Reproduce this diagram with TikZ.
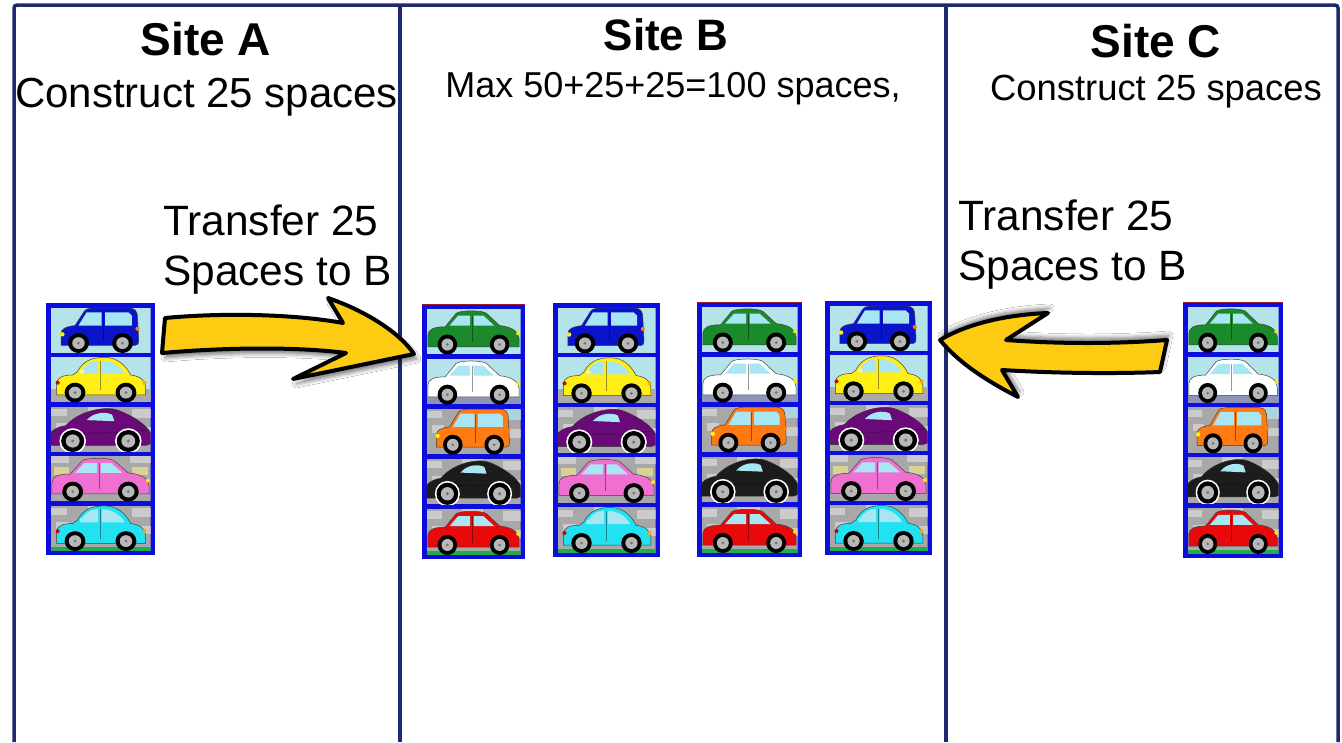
\documentclass[tikz,border=0pt]{standalone}
\usepackage{fontspec}
\setmainfont{Liberation Sans}
\usetikzlibrary{shadows.blur}

\definecolor{framenavy}{HTML}{1F2A6E}
\definecolor{stackblue}{HTML}{0D0DDC}
\definecolor{topred}{HTML}{9A1A2A}
\definecolor{arrowyellow}{HTML}{FCCB12}
\definecolor{sky}{HTML}{B4E3EA}
\definecolor{winblue}{HTML}{A8E6F4}
\definecolor{bldgray}{HTML}{A8A8A8}
\definecolor{bldlight}{HTML}{CBCBCB}
\definecolor{bldyellow}{HTML}{D9D294}
\definecolor{roadgray}{HTML}{ABABAB}
\definecolor{stripblue}{HTML}{8C94BA}
\definecolor{grass}{HTML}{1FAF4A}
\definecolor{hubgray}{HTML}{B8B8B8}
\definecolor{carblue}{HTML}{0A14C8}
\definecolor{caryellow}{HTML}{FFEF14}
\definecolor{carpurple}{HTML}{6A0A78}
\definecolor{carpink}{HTML}{F070D2}
\definecolor{carcyan}{HTML}{22E2F2}
\definecolor{cargreen}{HTML}{1A8A2A}
\definecolor{carwhite}{HTML}{FFFFFF}
\definecolor{carorange}{HTML}{FF7A12}
\definecolor{carblack}{HTML}{1C1C1C}
\definecolor{carred}{HTML}{E80A0A}

% ---------- wheels ----------
\newcommand\carwheel[3]{%
  \fill[black] (#1,#2) circle[radius=#3];
  \fill[hubgray] (#1,#2) circle[radius=#3*0.6];
  \fill[black!55] (#1,#2) circle[radius=#3*0.15];}

% ---------- car bodies (cell box: 95 x 45, origin at centre, y downwards) ----------
\newcommand\boxcar[1]{%
  \filldraw[fill=#1, draw=black!75, line width=0.5]
    (-34,13) -- (-34,2) .. controls (-34,-2) and (-30,-4) .. (-22,-5)
    -- (-14,-18) .. controls (-12,-21) and (-8,-21) .. (0,-21) -- (24,-21)
    .. controls (30,-21) and (32,-18) .. (32,-12) -- (33,8)
    .. controls (33,12) and (32,13) .. (30,13) -- cycle;
  \fill[winblue] (-19,-5) -- (-12,-17) -- (1,-17) -- (1,-5) -- cycle;
  \fill[winblue] (4,-17) -- (24,-17) -- (27,-14) -- (27,-5) -- (4,-5) -- cycle;
  \draw[#1!60!black, line width=0.5] (2,-17) -- (2,9);
  \fill[yellow] (-33,3) circle[radius=2];
  \fill[orange] (32,-2) circle[radius=1.8];
  \carwheel{-19}{11}{9}
  \carwheel{19}{11}{9}}

\newcommand\roundcar[1]{%
  \filldraw[fill=#1, draw=black!75, line width=0.5]
    (-38,13) -- (-38,3) .. controls (-38,-3) and (-32,-5) .. (-24,-5)
    -- (-20,-8) .. controls (-14,-20) and (-4,-21) .. (4,-21)
    .. controls (14,-21) and (22,-14) .. (26,-5)
    .. controls (34,-4) and (39,0) .. (39,6) -- (39,13) -- cycle;
  \fill[winblue] (-18,-6) .. controls (-14,-15) and (-8,-18) .. (-2,-18) -- (-2,-6) -- cycle;
  \fill[winblue] (1,-18) .. controls (10,-18) and (17,-13) .. (21,-6) -- (1,-6) -- cycle;
  \draw[#1!60!black, line width=0.5] (0,-18) -- (0,9);
  \fill[#1!50!white] (-16,-8) circle[radius=2];
  \fill[red!80!black] (-37,2) circle[radius=1.8];
  \fill[orange!70!yellow] (38,2) circle[radius=1.8];
  \carwheel{-22}{11}{9}
  \carwheel{22}{11}{9}}

\newcommand\domecar[1]{%
  \filldraw[fill=#1, draw=black!80, line width=0.5]
    (-45,11) .. controls (-46,4) and (-42,-2) .. (-30,-4)
    .. controls (-18,-18) and (5,-22) .. (15,-18)
    .. controls (30,-12) and (44,-2) .. (45,8)
    .. controls (45,12) and (42,14) .. (38,14) -- (-40,14)
    .. controls (-44,14) and (-45,13) .. (-45,11) -- cycle;
  \fill[winblue] (-12,-9) .. controls (-6,-16) and (4,-17) .. (10,-14) -- (12,-8) -- cycle;
  \draw[#1!55!black, line width=0.5] (-30,2) .. controls (0,4) and (20,2) .. (40,0);
  \fill[white] (-24,10) circle[radius=11.5];
  \fill[white] (24,10) circle[radius=11.5];
  \carwheel{-24}{10}{10}
  \carwheel{24}{10}{10}}

\newcommand\sedancar[1]{%
  \filldraw[fill=#1, draw=black!75, line width=0.5]
    (-42,13) -- (-42,3) .. controls (-42,-3) and (-36,-5) .. (-26,-5)
    -- (-16,-17) .. controls (-12,-20) and (8,-20) .. (12,-17)
    -- (24,-6) .. controls (36,-5) and (42,0) .. (42,6) -- (42,13) -- cycle;
  \fill[winblue] (-22,-6) -- (-14,-15) -- (-3,-15) -- (-3,-6) -- cycle;
  \fill[winblue] (0,-15) -- (9,-15) -- (19,-6) -- (0,-6) -- cycle;
  \draw[#1!60!black, line width=0.5] (-1.5,-15) -- (-1.5,9);
  \fill[yellow!90!orange] (41,1) circle[radius=1.8];
  \carwheel{-24}{11}{9}
  \carwheel{24}{11}{9}}

% ---------- cell backgrounds ----------
\newcommand\bgsky{\fill[sky] (-47.5,-22.5) rectangle (47.5,22.5);}
\newcommand\bgroad{\fill[sky] (-47.5,-22.5) rectangle (47.5,22.5);
  \fill[roadgray] (-47.5,9) rectangle (47.5,22.5);}
\newcommand\bgbluestrip{\fill[sky] (-47.5,-22.5) rectangle (47.5,22.5);
  \fill[stripblue] (-47.5,15) rectangle (47.5,22.5);}
\newcommand\bgcity{\fill[bldgray] (-47.5,-22.5) rectangle (47.5,22.5);
  \fill[bldlight] (-47.5,-20) rectangle (-32,-13);
  \fill[bldlight] (-42,-6) rectangle (-30,1);
  \fill[bldlight] (-12,-22.5) rectangle (10,-17);
  \fill[bldlight] (30,-20) rectangle (47.5,-11);
  \fill[bldlight] (32,-2) rectangle (47.5,6);}
\newcommand\bgcitypatch{\bgcity
  \fill[sky!80!stripblue] (12,-22.5) rectangle (47.5,-12);}
\newcommand\bgcityyellow{\fill[bldgray] (-47.5,-22.5) rectangle (47.5,22.5);
  \fill[bldlight] (-47.5,-22.5) rectangle (-30,-16);
  \fill[bldyellow] (-44,-12) rectangle (-30,-4);
  \fill[bldyellow] (30,-12) rectangle (45,-4);
  \fill[bldlight] (28,-22.5) rectangle (47.5,-16);}
\newcommand\bggrass{\bgcity
  \fill[grass] (-47.5,19) rectangle (47.5,22.5);}

% ---------- one parking cell: x-left, y-top, width, height, row, background, car ----------
\newcommand\parkcell[7]{%
  \pgfmathsetmacro\pcw{#3-9}%
  \pgfmathsetmacro\pch{(#4-27)/5}%
  \pgfmathsetmacro\pcx{#1+#3/2}%
  \pgfmathsetmacro\pcy{#2+4.5+#5*(\pch+4.5)+\pch/2}%
  \pgfmathsetmacro\psx{\pcw/95}%
  \pgfmathsetmacro\psy{\pch/45}%
  \begin{scope}[shift={(\pcx,\pcy)}, xscale=\psx, yscale=\psy]
    \clip (-47.5,-22.5) rectangle (47.5,22.5);
    #6
    \begin{scope}[shift={(0,1)}, scale=1.1]
      #7
    \end{scope}
  \end{scope}}

% stack of five: blue, yellow, purple, pink, cyan
\newcommand\parkstackblue[5]{%
  \node[stackbox, minimum width=#4pt, minimum height=#5pt] (#1) at ({#2+#4/2},{#3+#5/2}) {};
  \parkcell{#2}{#3}{#4}{#5}{0}{\bgsky}{\boxcar{carblue}}
  \parkcell{#2}{#3}{#4}{#5}{1}{\bgroad}{\roundcar{caryellow}}
  \parkcell{#2}{#3}{#4}{#5}{2}{\bgcity}{\domecar{carpurple}}
  \parkcell{#2}{#3}{#4}{#5}{3}{\bgcityyellow}{\sedancar{carpink}}
  \parkcell{#2}{#3}{#4}{#5}{4}{\bggrass}{\roundcar{carcyan}}}

% stack of five: green, white, orange, black, red
\newcommand\parkstackgreen[5]{%
  \node[stackbox, minimum width=#4pt, minimum height=#5pt] (#1) at ({#2+#4/2},{#3+#5/2}) {};
  \draw[topred, line width=1] (#1.north west) -- (#1.north east);
  \parkcell{#2}{#3}{#4}{#5}{0}{\bgsky}{\sedancar{cargreen}}
  \parkcell{#2}{#3}{#4}{#5}{1}{\bgbluestrip}{\sedancar{carwhite}}
  \parkcell{#2}{#3}{#4}{#5}{2}{\bgcitypatch}{\boxcar{carorange}}
  \parkcell{#2}{#3}{#4}{#5}{3}{\bgcity}{\domecar{carblack}}
  \parkcell{#2}{#3}{#4}{#5}{4}{\bggrass}{\sedancar{carred}}}

\begin{document}
\begin{tikzpicture}[x=1pt, y=-1pt,
  stackbox/.style={rectangle, fill=stackblue, draw=none, inner sep=0pt, outer sep=0pt},
  divider/.style={framenavy, line width=3.5pt},
  titletext/.style={anchor=base, inner sep=0pt, font=\fontsize{46}{50}\selectfont\bfseries},
  bodytext/.style={anchor=base, inner sep=0pt},
  arrowshape/.style={fill=arrowyellow, draw=black, line width=4pt, line join=round}]

\useasboundingbox (0,0) rectangle (1342,742);
\fill[white] (0,0) rectangle (1342,742);

% site frame and dividers
\draw[divider, rounded corners=3pt] (14,742) -- (14,5) -- (1338,5) -- (1338,742);
\draw[divider] (400,5) -- (400,742);
\draw[divider] (946,5) -- (946,742);

% headings
\node[titletext] (siteA) at (206,55) {Site A};
\node[bodytext, font=\fontsize{42}{48}\selectfont] (subA) at (206.5,107) {Construct 25 spaces};
\node[titletext, font=\fontsize{44}{50}\selectfont\bfseries] (siteB) at (666,50) {Site B};
\node[bodytext, font=\fontsize{36}{42}\selectfont] (subB) at (673,97) {Max 50+25+25=100 spaces,};
\node[titletext] (siteC) at (1156,57) {Site C};
\node[bodytext, font=\fontsize{36.4}{42}\selectfont] (subC) at (1156,100) {Construct 25 spaces};

% transfer labels
\node[bodytext, anchor=base west, font=\fontsize{42.4}{50}\selectfont] (trA1) at (163,235) {Transfer 25};
\node[bodytext, anchor=base west, font=\fontsize{42.4}{50}\selectfont] (trA2) at (163,285) {Spaces to B};
\node[bodytext, anchor=base west, font=\fontsize{42.4}{50}\selectfont] (trC1) at (958,230) {Transfer 25};
\node[bodytext, anchor=base west, font=\fontsize{42.4}{50}\selectfont] (trC2) at (958,280) {Spaces to B};

% parking stacks
\parkstackblue{stA}{46}{303}{109}{252}
\parkstackgreen{stB1}{422}{304}{103}{255}
\parkstackblue{stB2}{553}{303}{107}{254}
\parkstackgreen{stB3}{697}{302}{105}{255}
\parkstackblue{stB4}{825}{301}{107}{254}
\parkstackgreen{stC}{1183}{302}{100}{256}

% transfer arrow A -> B
\path[arrowshape, blur shadow={shadow xshift=3pt, shadow yshift=-5pt, shadow blur radius=4pt, shadow opacity=50}]
  (165,318) .. controls (230,312) and (300,315) .. (343,323)
  -- (328,298)
  .. controls (366,311) and (400,333) .. (414,354)
  -- (293,379)
  -- (346,353)
  .. controls (300,347) and (230,347) .. (162,353)
  -- cycle;

% transfer arrow C -> B
\path[arrowshape, blur shadow={shadow xshift=2pt, shadow yshift=5pt, shadow blur radius=4pt, shadow opacity=50}]
  (940,340) .. controls (963,326) and (1000,315) .. (1048,313)
  -- (1006,340)
  .. controls (1060,344) and (1115,344) .. (1167,340)
  -- (1160,372)
  .. controls (1110,374) and (1050,373) .. (1002,370)
  -- (1018,397)
  .. controls (985,380) and (958,362) .. (940,340)
  -- cycle;

\end{tikzpicture}
\end{document}
